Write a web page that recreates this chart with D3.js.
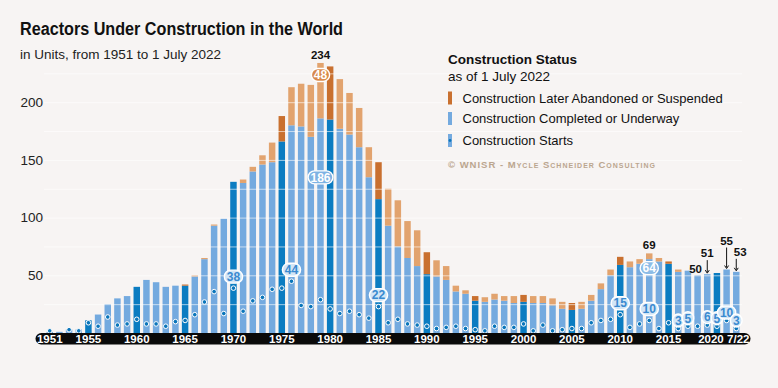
<!DOCTYPE html>
<html>
<head>
<meta charset="utf-8">
<script src="https://cdn.jsdelivr.net/npm/d3@7"></script>
<style>
  html, body { margin: 0; padding: 0; background: #f7f4f3; }
  svg { display: block; font-family: "Liberation Sans", Arial, sans-serif; }
</style>
</head>
<body>
<div id="chart-area"></div>
<script>
// Years 1951 .. 2022 (2022 = status at 1 July)
var years = d3.range(1951, 2023);

// Construction completed or still underway
var completed = [1, 1, 3, 3, 11, 16, 25, 30, 32, 40,
  46, 44, 40, 41, 41, 49, 64, 93, 99, 131,
  130, 140, 146, 148, 166, 180, 179, 170, 186, 185,
  177, 172, 161, 135, 116, 93, 75, 65, 58, 51,
  49, 46, 36, 34, 28, 27, 29, 28, 26, 27,
  26, 26, 24, 21, 20, 21, 28, 38, 50, 59,
  57, 60, 64, 62, 60, 53, 54, 50, 51, 52,
  55, 53];

// Construction later abandoned or suspended
var abandoned = [0, 0, 0, 0, 0, 0, 0, 0, 0, 0,
  0, 0, 0, 0, 1, 1, 1, 1, 0, 0,
  3, 4, 8, 17, 22, 33, 37, 45, 48, 46,
  43, 36, 34, 26, 32, 32, 40, 32, 31, 19,
  14, 12, 5, 3, 4, 4, 5, 4, 6, 6,
  6, 6, 6, 6, 6, 6, 5, 5, 5, 7,
  5, 4, 5, 3, 2, 2, 0, 0, 0, 0,
  0, 0];

// Construction starts
var starts = [1, 0, 2, 1, 8, 5, 13, 6, 7, 11,
  7, 7, 5, 9, 10, 15, 26, 35, 16, 38,
  18, 27, 30, 37, 38, 44, 23, 22, 28, 20,
  16, 18, 15, 12, 22, 8, 11, 7, 6, 5,
  3, 4, 5, 3, 2, 1, 5, 4, 4, 7,
  1, 6, 1, 2, 3, 3, 8, 10, 11, 15,
  4, 7, 10, 3, 8, 3, 5, 5, 6, 5,
  10, 3];

// Highlighted values
var startLabelYears = [1970, 1976, 1985, 2010, 2013, 2016, 2017, 2019, 2020, 2021, 2022];
var totalLabelYears = [1979, 2013, 2018];
var arrowLabelYears = [2019, 2021, 2022];
var xTickYears = [1951, 1955, 1960, 1965, 1970, 1975, 1980, 1985, 1990, 1995, 2000, 2005, 2010, 2015, 2020, 2022];
var yTicks = [50, 100, 150, 200];

var W = 778, H = 388;
var lightBlue = "#74aadf", darkBlue = "#0b7cc1",
    lightOrange = "#e2a36e", darkOrange = "#c9702f",
    dotBlue = "#0b76bb";

var data = years.map(function(y, i) {
  return { year: y, done: completed[i], aband: abandoned[i], start: starts[i] };
});
var byYear = {};
data.forEach(function(d) { byYear[d.year] = d; });

var svg = d3.select("#chart-area")
  .append("svg")
    .attr("width", W)
    .attr("height", H);

svg.append("rect")
  .attr("width", W).attr("height", H)
  .attr("fill", "#f7f4f3");

// Scales
var x = d3.scaleBand()
  .domain(years)
  .range([44.9, 741.1])
  .paddingInner(0.33)
  .paddingOuter(0.165);
var y = d3.scaleLinear()
  .domain([0, 250])
  .range([333, 333 - 288.5]);

function cx(yr) { return x(yr) + x.bandwidth() / 2; }
function hi(yr) { return yr % 5 === 0; }

// Title
svg.append("text")
  .attr("x", 20).attr("y", 34.5)
  .attr("font-size", "18px")
  .attr("font-weight", "bold")
  .attr("fill", "#111")
  .attr("textLength", 323)
  .attr("lengthAdjust", "spacingAndGlyphs")
  .text("Reactors Under Construction in the World");
svg.append("text")
  .attr("x", 20).attr("y", 59)
  .attr("font-size", "13.5px")
  .attr("fill", "#222")
  .text("in Units, from 1951 to 1 July 2022");

// Y labels
var yAxis = svg.append("g")
  .attr("transform", "translate(44,0)")
  .call(d3.axisLeft(y).tickValues(yTicks).tickSize(0).tickPadding(1));
yAxis.select(".domain").remove();
yAxis.selectAll("text")
  .attr("font-size", "13.5px")
  .attr("font-family", "Liberation Sans, Arial, sans-serif")
  .attr("fill", "#222");

// Bars
var bars = svg.append("g");
bars.selectAll(".done").data(data).enter().append("rect")
  .attr("class", "done")
  .attr("x", function(d) { return x(d.year); })
  .attr("width", x.bandwidth())
  .attr("y", function(d) { return y(d.done); })
  .attr("height", function(d) { return y(0) - y(d.done); })
  .attr("fill", function(d) { return hi(d.year) ? darkBlue : lightBlue; });
bars.selectAll(".aband").data(data.filter(function(d) { return d.aband > 0; })).enter().append("rect")
  .attr("class", "aband")
  .attr("x", function(d) { return x(d.year); })
  .attr("width", x.bandwidth())
  .attr("y", function(d) { return y(d.done + d.aband); })
  .attr("height", function(d) { return y(d.done) - y(d.done + d.aband); })
  .attr("fill", function(d) { return hi(d.year) ? darkOrange : lightOrange; });

// White grid lines every 25 units
svg.append("g").selectAll("line")
  .data(d3.range(25, 250, 25))
  .enter().append("line")
    .attr("x1", 44).attr("x2", 742)
    .attr("y1", function(d) { return y(d) + 0.5; })
    .attr("y2", function(d) { return y(d) + 0.5; })
    .attr("stroke", "#fff")
    .attr("stroke-opacity", 0.6)
    .attr("stroke-width", 1);

// Construction starts dots
svg.append("g").selectAll("circle")
  .data(data.filter(function(d) { return d.start > 0; }))
  .enter().append("circle")
    .attr("cx", function(d) { return cx(d.year); })
    .attr("cy", function(d) { return y(d.start) - 1; })
    .attr("r", 2.3)
    .attr("fill", dotBlue)
    .attr("stroke", "#fff")
    .attr("stroke-width", 1);

function pill(g, px, py, txt, fill, color) {
  var w = txt.length * 6.6 + 5;
  g.append("rect")
    .attr("x", px - w / 2).attr("y", py - 6.5)
    .attr("width", w).attr("height", 13)
    .attr("rx", 6.5)
    .attr("fill", fill)
    .attr("stroke", "#fff")
    .attr("stroke-width", 1.4);
  g.append("text")
    .attr("x", px).attr("y", py + 4.3)
    .attr("text-anchor", "middle")
    .attr("font-size", "12px")
    .attr("font-weight", "bold")
    .attr("fill", color)
    .text(txt);
}

// Start labels
var labels = svg.append("g");
startLabelYears.forEach(function(yr) {
  var d = byYear[yr];
  var off = yr >= 2016 ? 8 : 11.5;
  pill(labels, cx(yr), y(d.start) - 1 - off, String(d.start), "#d3e6f6", "#3a8ad0");
});

// Peak labels
var pk = byYear[1979];
pill(labels, cx(1979), y(pk.done) + 59, String(pk.done), "#7fb3e3", "#fff");
pill(labels, cx(1979), y(pk.done + pk.aband) + 12, String(pk.aband), "#d98a4c", "#fff");
var p13 = byYear[2013];
pill(labels, cx(2013), y(p13.done) + 9, String(p13.done), "#8dbce6", "#fff");

// Totals
totalLabelYears.forEach(function(yr) {
  var d = byYear[yr];
  labels.append("text")
    .attr("x", cx(yr) + (yr === 2018 ? -2 : 0))
    .attr("y", y(d.done + d.aband) - (yr === 2018 ? 2 : 4))
    .attr("text-anchor", "middle")
    .attr("font-size", "11.5px")
    .attr("font-weight", "bold")
    .attr("fill", "#111")
    .text(d.done + d.aband);
});
var arrowLift = { 2019: 12, 2021: 20, 2022: 11 };
arrowLabelYears.forEach(function(yr) {
  var d = byYear[yr];
  var top = y(d.done + d.aband);
  var ly = top - 2 - arrowLift[yr];
  labels.append("line")
    .attr("x1", cx(yr)).attr("x2", cx(yr))
    .attr("y1", ly).attr("y2", top - 2)
    .attr("stroke", "#111").attr("stroke-width", 1);
  labels.append("path")
    .attr("d", "M" + (cx(yr) - 2) + "," + (top - 4) + "L" + cx(yr) + "," + (top - 1) + "L" + (cx(yr) + 2) + "," + (top - 4))
    .attr("fill", "none").attr("stroke", "#111").attr("stroke-width", 1);
  labels.append("text")
    .attr("x", cx(yr) + (yr === 2022 ? 4 : 0)).attr("y", ly - 3)
    .attr("text-anchor", "middle")
    .attr("font-size", "11.5px")
    .attr("font-weight", "bold")
    .attr("fill", "#111")
    .text(d.done + d.aband);
});

// X axis band
svg.append("rect")
  .attr("x", 35.5).attr("y", 333)
  .attr("width", 715).attr("height", 11.5)
  .attr("rx", 5.75)
  .attr("fill", "#0a0a0a");
var xAxis = svg.append("g")
  .attr("transform", "translate(0,333)")
  .call(d3.axisBottom(x).tickValues(xTickYears).tickSize(0).tickPadding(0)
    .tickFormat(function(d) { return d === 2022 ? "7/22" : d; }));
xAxis.select(".domain").remove();
xAxis.selectAll("text")
  .attr("y", 10)
  .attr("dy", 0)
  .attr("font-size", "11.5px")
  .attr("font-weight", "bold")
  .attr("font-family", "Liberation Sans, Arial, sans-serif")
  .attr("fill", "#fff")
  .attr("dx", function(d) { return d === 2020 ? -6 : (d === 2022 ? 2 : 0); });

// Legend
var lg = svg.append("g").attr("transform", "translate(448,0)");
lg.append("text").attr("x", 0).attr("y", 64)
  .attr("font-size", "13.5px").attr("font-weight", "bold").attr("fill", "#111")
  .text("Construction Status");
lg.append("text").attr("x", 0).attr("y", 80.5)
  .attr("font-size", "13.5px").attr("fill", "#111")
  .text("as of 1 July 2022");
var items = [
  { label: "Construction Later Abandoned or Suspended", color: darkOrange, y: 91.5 },
  { label: "Construction Completed or Underway", color: lightBlue, y: 112 },
  { label: "Construction Starts", color: lightBlue, y: 134 }
];
items.forEach(function(it) {
  lg.append("rect").attr("x", 0).attr("y", it.y)
    .attr("width", 4).attr("height", 13)
    .attr("fill", it.color);
  lg.append("text").attr("x", 14.5).attr("y", it.y + 11)
    .attr("font-size", "13px").attr("fill", "#111")
    .text(it.label);
});
lg.append("circle").attr("cx", 2).attr("cy", 140.5).attr("r", 1.4).attr("fill", dotBlue);
lg.append("text").attr("x", 0).attr("y", 168)
  .attr("font-size", "9.5px")
  .attr("font-weight", "bold")
  .attr("letter-spacing", "1px")
  .attr("font-variant", "small-caps")
  .attr("fill", "#bba68f")
  .text("© WNISR - Mycle Schneider Consulting");
</script>
</body>
</html>
